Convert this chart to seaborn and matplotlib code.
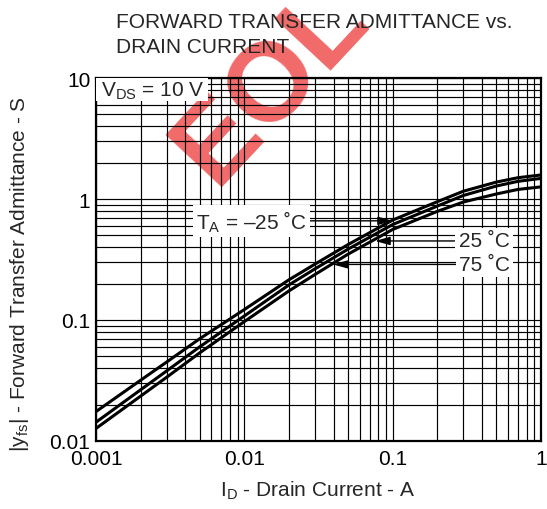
import numpy as np
import pandas as pd
import seaborn as sns
import matplotlib.pyplot as plt
from matplotlib.patches import Rectangle
from matplotlib.ticker import LogLocator, NullFormatter, FixedLocator, FixedFormatter

# values
drain_current = [0.001, 0.002, 0.003, 0.005, 0.01, 0.02, 0.03, 0.05, 0.1, 0.2, 0.3, 0.5, 0.7, 1.0]
yfs_m25 = [0.0175, 0.0318, 0.045, 0.070, 0.122, 0.215, 0.29, 0.42, 0.67, 0.95, 1.16, 1.38, 1.50, 1.58]
yfs_25 = [0.0143, 0.0265, 0.038, 0.060, 0.108, 0.195, 0.265, 0.385, 0.615, 0.874, 1.07, 1.28, 1.40, 1.48]
yfs_75 = [0.0127, 0.0235, 0.0337, 0.0535, 0.097, 0.174, 0.238, 0.35, 0.56, 0.79, 0.945, 1.10, 1.20, 1.26]
temps = ['-25', '25', '75']

x_ticks = [0.001, 0.01, 0.1, 1]
x_ticklabels = ['0.001', '0.01', '0.1', '1']
y_ticks = [0.01, 0.1, 1, 10]
y_ticklabels = ['0.01', '0.1', '1', '10']

df = pd.DataFrame({
    'Id': drain_current * 3,
    'yfs': yfs_m25 + yfs_25 + yfs_75,
    'Ta': [t for t in temps for _ in drain_current],
})

sns.set_theme(style='white')
plt.rcParams['font.family'] = ['Liberation Sans', 'DejaVu Sans']
plt.rcParams['mathtext.fontset'] = 'custom'
plt.rcParams['mathtext.rm'] = 'Liberation Sans'
FS = 15

fig = plt.figure(figsize=(5.47, 5.1), dpi=100)
ax = fig.add_axes([96 / 547, 68 / 510, 445 / 547, 363 / 510])
ax.set_facecolor('none')

sns.lineplot(data=df, x='Id', y='yfs', hue='Ta', palette=['black'] * 3,
             linewidth=2.2, legend=False, ax=ax, zorder=3)

ax.set_xscale('log')
ax.set_yscale('log')
ax.set_xlim(0.001, 1)
ax.set_ylim(0.01, 10)
ax.xaxis.set_major_locator(FixedLocator(x_ticks))
ax.xaxis.set_major_formatter(FixedFormatter(x_ticklabels))
ax.yaxis.set_major_locator(FixedLocator(y_ticks))
ax.yaxis.set_major_formatter(FixedFormatter(y_ticklabels))
ax.xaxis.set_minor_locator(LogLocator(base=10, subs=range(2, 10)))
ax.yaxis.set_minor_locator(LogLocator(base=10, subs=range(2, 10)))
ax.xaxis.set_minor_formatter(NullFormatter())
ax.yaxis.set_minor_formatter(NullFormatter())
ax.tick_params(which='both', length=0)
ax.tick_params(axis='x', pad=6, labelsize=FS, colors='black')
ax.tick_params(axis='y', pad=4, labelsize=FS, colors='black')
ax.grid(which='both', color='black', linewidth=0.85)
for s in ax.spines.values():
    s.set_color('black')
    s.set_linewidth(1.6)
ax.set_xlabel('')
ax.set_ylabel('')

# white boxes behind labels hide the grid
ax.add_patch(Rectangle((0, 1 - 23 / 363), 112 / 445, 23 / 363, transform=ax.transAxes,
                       facecolor='white', edgecolor='none', zorder=4))
ax.text(5 / 445, 1 - 12 / 363, r'V$_\mathregular{DS}$ = 10 V', transform=ax.transAxes,
        fontsize=FS, ha='left', va='center', zorder=5)

arrow = dict(arrowstyle='-|>,head_length=0.9,head_width=0.25', color='black', lw=1.0,
             shrinkA=0, shrinkB=0, mutation_scale=10)
box = dict(boxstyle='square,pad=0.15', fc='white', ec='none')
ax.annotate(r'T$_\mathregular{A}$ = –25 ˚C', xy=(0.1006, 0.66), xytext=(0.0111, 0.66),
            fontsize=FS, ha='center', va='center', bbox=box, arrowprops=arrow, zorder=5)
ax.annotate('25 ˚C', xy=(0.076, 0.45), xytext=(0.413, 0.45),
            fontsize=FS, ha='center', va='center', bbox=box, arrowprops=arrow, zorder=5)
ax.annotate('75 ˚C', xy=(0.0396, 0.288), xytext=(0.418, 0.288),
            fontsize=FS, ha='center', va='center', bbox=box, arrowprops=arrow, zorder=5)

fig.text(116 / 547, 1 - 28 / 510, 'FORWARD TRANSFER ADMITTANCE vs.',
         fontsize=FS, ha='left', va='baseline')
fig.text(116 / 547, 1 - 53 / 510, 'DRAIN CURRENT',
         fontsize=FS, ha='left', va='baseline')
fig.text(318 / 547, 1 - 491 / 510, r'I$_\mathregular{D}$ - Drain Current - A',
         fontsize=FS, ha='center', va='center')
fig.text(20 / 547, 1 - 274 / 510, r'|y$_\mathregular{fs}$| - Forward Transfer Admittance - S',
         fontsize=FS, ha='center', va='center', rotation=90)

# EOL watermark behind the grid
fig.text(272 / 547, 1 - 84 / 510, 'EOL', fontsize=80, fontweight='bold', color='#f05050',
         alpha=0.85, rotation=47, ha='center', va='center', zorder=-1)

fig.savefig('out.png', dpi=100, facecolor='white')
